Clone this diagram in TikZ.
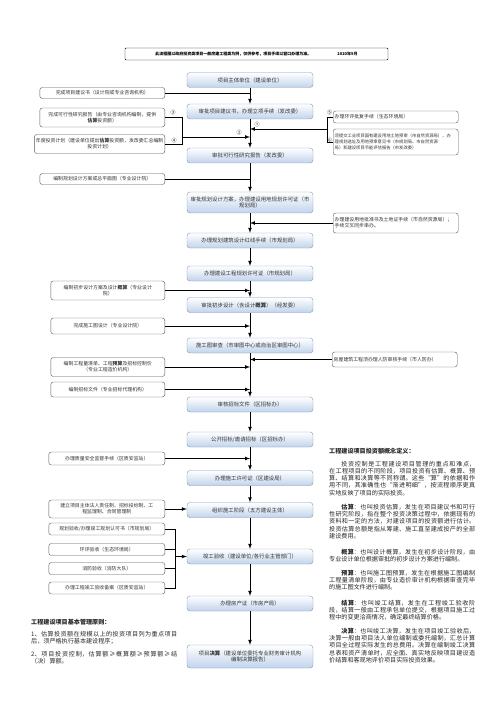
\documentclass[tikz,border=0pt]{standalone}
\usepackage{fontspec}
\setmainfont{Noto Sans CJK SC}
\XeTeXlinebreaklocale "zh"
\XeTeXlinebreakskip = 0pt
\usepackage{tikz}
\definecolor{stageblue}{RGB}{193,212,236}
\definecolor{stageline}{RGB}{128,150,184}
\newcommand{\stagefont}{\fontsize{5.4}{6.8}\selectfont}
\newcommand{\taskfont}{\fontsize{4.9}{6.2}\selectfont}
\newcommand{\smalltaskfont}{\fontsize{4.3}{5.8}\selectfont}
\newcommand{\notefont}{\fontsize{6.1}{7.2}\selectfont\XeTeXlinebreakskip=0pt plus 1pt}
\tikzstyle{stagebox}=[draw=stageline, rounded corners=3pt, top color=white, bottom color=stageblue,
                      minimum width=126pt, minimum height=15pt, align=center, inner sep=2pt,
                      font=\stagefont, text=black!80]
\tikzstyle{taskbox}=[draw=black!65, rounded corners=2.5pt, fill=white, minimum height=11pt,
                     inner sep=1.5pt, align=center, font=\taskfont, text=black!80]
\tikzstyle{notetext}=[anchor=north west, inner sep=0, align=justify, font=\notefont, text=black!85]
\tikzstyle{flow}=[-latex, line width=0.7pt]
\tikzstyle{link}=[line width=0.7pt]
\tikzstyle{numlabel}=[inner sep=0, font=\fontsize{5}{5}\selectfont]

\begin{document}
\begin{tikzpicture}[x=1pt, y=-1pt]
    \useasboundingbox (0,0) rectangle (503,711);
    \node[draw, rounded corners=1pt, minimum width=263pt, minimum height=12pt, inner sep=0,
          font=\fontsize{4}{4}\selectfont\bfseries] (title) at (256.5,54)
        {此流程图以政府投资类项目一般房建工程类为例，仅供参考，项目手续以窗口办理为准。\hspace{26pt}2020年9月};

    % main line
    \node[stagebox] (owner) at (250,80) {项目主体单位（建设单位）};
    \node[stagebox] (proposal) at (250,111.5) {审批项目建议书，办理立项手续（发改委）};
    \node[stagebox] (feasibility) at (250,155.5) {审批可行性研究报告（发改委）};
    \node[stagebox, minimum height=21pt] (scheme) at (250,202.5) {审批规划设计方案，办理建设用地规划许可证（市\\规划局）};
    \node[stagebox] (redline) at (250,240.5) {办理规划建筑设计红线手续（市规划局）};
    \node[stagebox] (planpermit) at (250,273.5) {办理建设工程规划许可证（市规划局）};
    \node[stagebox] (prelim) at (250,305) {审批初步设计（含设计\textbf{概算}）（经发委）};
    \node[stagebox] (review) at (250,345.5) {施工图审查（市审图中心或自治区审图中心）};
    \node[stagebox] (tenderdoc) at (250,404.5) {审核招标文件（区招标办）};
    \node[stagebox] (bidding) at (250,439.5) {公开招标/邀请招标（区招标办）};
    \node[stagebox] (buildpermit) at (250,478) {办理施工许可证（区建设局）};
    \node[stagebox] (construct) at (250,510) {组织施工阶段（五方建设主体）};
    \node[stagebox] (accept) at (250,556.5) {竣工验收（建设单位/各行业主管部门）};
    \node[stagebox] (deed) at (250,603.5) {办理房产证（市房产局）};
    \node[stagebox, minimum height=23pt] (account) at (250,656.5) {项目\textbf{决算}（建设单位委托专业财务审计机构\\编制决算报告）};

    \foreach \a/\b in {owner/proposal, proposal/feasibility, feasibility/scheme, scheme/redline,
                       redline/planpermit, planpermit/prelim, prelim/review, review/tenderdoc,
                       tenderdoc/bidding, bidding/buildpermit, buildpermit/construct,
                       construct/accept, accept/deed, deed/account}
        \draw[flow] (\a) -- (\b);

    % left side
    \node[taskbox, minimum width=125pt, anchor=east] (lproposal) at (165,93) {完成项目建议书（设计院或专业咨询机构）};
    \node[taskbox, minimum width=125pt, anchor=east, minimum height=19pt] (lfeas) at (165,117.5) {完成可行性研究报告（由专业咨询机构编制，提供\\\textbf{估算}投资额）};
    \node[taskbox, minimum width=125pt, anchor=east, minimum height=19pt] (lplan) at (165,144) {年度投资计划（建设单位提出\textbf{估算}投资额，发改委汇总编制\\投资计划）};
    \node[taskbox, minimum width=125pt, anchor=east] (lscheme) at (165,179) {编制规划设计方案或总平面图（专业设计院）};
    \node[taskbox, minimum width=114pt, anchor=east, minimum height=19pt] (lprelim) at (165,290.5) {编制初步设计方案及设计\textbf{概算}（专业设计\\院）};
    \node[taskbox, minimum width=114pt, anchor=east, minimum height=16pt] (ldrawing) at (165,326) {完成施工图设计（专业设计院）};
    \node[taskbox, minimum width=114pt, anchor=east, minimum height=19pt] (lquantity) at (165,367) {编制工程量清单、工程\textbf{预算}及招标控制价\\（专业工程造价机构）};
    \node[taskbox, minimum width=114pt, anchor=east, minimum height=15pt] (ltender) at (165,389.5) {编制招标文件（专业招标代理机构）};
    \node[taskbox, minimum width=116pt, anchor=east, minimum height=13pt] (lsafety) at (165,458.5) {办理质量安全监督手续（区质安监站）};
    \node[taskbox, minimum width=116pt, anchor=east, minimum height=18pt] (lsystem) at (165,509) {建立项目主体法人责任制、招标投标制、工\\程监理制、合同管理制};
    \node[taskbox, minimum width=116pt, anchor=east, minimum height=12pt] (lplancheck) at (165,529) {规划验收/办理竣工规划认可书（市规划局）};
    \node[taskbox, minimum width=116pt, anchor=east, minimum height=12pt] (lenvcheck) at (165,549.5) {环评验收（生态环境局）};
    \node[taskbox, minimum width=116pt, anchor=east, minimum height=12pt] (lfire) at (165,568.5) {消防验收（消防大队）};
    \node[taskbox, minimum width=116pt, anchor=east, minimum height=12pt] (lrecord) at (165,588) {办理工程竣工验收备案（区质安监站）};

    % right side
    \node[taskbox, text width=122pt, anchor=west, minimum height=12pt, align=left] (renv) at (333,117) {办理环评批复手续（生态环境局）};
    \node[taskbox, text width=122pt, anchor=west, minimum height=26pt, align=left, font=\smalltaskfont] (rland) at (333,142) {须提交工业项目国有建设用地土地预审（市自然资源局），办\\理规划选址及用地预审意见书（市规划局、市自然资源\\局）和建设项目节能评估报告（市发改委）};
    \node[taskbox, text width=122pt, anchor=west, minimum height=20pt, align=left] (rlandcert) at (333,223) {办理建设用地批准书及土地证手续（市自然资源局）；\\手续交叉同步串办。};
    \node[taskbox, text width=122pt, anchor=west, minimum height=15pt, align=left] (rdefense) at (332,359.5) {房屋建筑工程须办理人防审核手续（市人防办）};

    % side connectors
    \draw[link] (lproposal.east) -- (lproposal.east -| proposal.north);
    \coordinate (lmerge) at (182,137);
    \draw[link] (lfeas.east) -| (lmerge);
    \draw[link] (lplan.east) -| (lmerge);
    \draw[flow] (lmerge) -- (lmerge -| feasibility.north);
    \coordinate (rmerge) at (327,129);
    \draw[link] (renv.west) -| (rmerge);
    \draw[link] (rland.west) -| (rmerge);
    \draw[flow] (rmerge) -- (rmerge -| feasibility.north);
    \node[numlabel] (n1) at (257,125) {①};
    \node[numlabel] (n2) at (239,133) {②};
    \node[numlabel] (n3) at (173,113) {③};
    \node[numlabel] (n4) at (174,140.5) {④};
    \node[numlabel] (n5) at (329.5,113) {⑤};
    \node[numlabel] (n6) at (329.5,141) {⑥};
    \draw[link] (lscheme.east) -- (lscheme.east -| scheme.north);
    \draw[flow] (rlandcert.west) -- (rlandcert.west -| redline.north);
    \draw[flow] (lprelim.east) -- (lprelim.east -| prelim.north);
    \draw[flow] (ldrawing.east) -- (ldrawing.east -| review.north);
    \draw[flow] (rdefense.west) -- (rdefense.west -| tenderdoc.north);
    \draw[flow] (lquantity.east) -- (lquantity.east -| tenderdoc.north);
    \draw[flow] (ltender.east) -- (ltender.east -| tenderdoc.north);
    \draw[flow] (lsafety.east) -- (lsafety.east -| buildpermit.north);
    \draw[flow] (lsystem.east) -- (construct.west |- lsystem.east);
    \coordinate (acmerge) at (175,556.5);
    \draw[link] (lplancheck.east) -| (acmerge);
    \draw[link] (lrecord.east) -| (acmerge);
    \draw[link] (lenvcheck.east) -- (lenvcheck.east -| acmerge);
    \draw[link] (lfire.east) -- (lfire.east -| acmerge);
    \draw[flow] (acmerge) -- (accept.west);

    % principles
    \node[notetext, font=\notefont\bfseries, text width=150pt] (rules) at (31,619) {工程建设项目基本管理原则：};
    \node[notetext, text width=146pt] (rule1) at (31,631) {\hangindent=1.3em\hangafter=1 1、估算投资额在规模以上的投资项目列为重点项目后，须严格执行基本建设程序；};
    \node[notetext, text width=146pt] (rule2) at (31,651) {\hangindent=1.3em\hangafter=1 2、项目投资控制，估算额≥概算额≥预算额≥结（决）算额。};

    % definitions
    \node[notetext, font=\notefont\bfseries, text width=146pt] (defs) at (329,448) {工程建设项目投资额概念定义：};
    \node[notetext, text width=146pt] (def0) at (329,461) {\hspace*{2em}投资控制是工程建设项目管理的重点和难点，在工程项目的不同阶段，项目投资有估算、概算、预算、结算和决算等不同称谓。这些“算”的依据和作用不同，其准确性也“渐进明细”，按流程顺序更真实地反映了项目的实际投资。};
    \node[notetext, text width=146pt] (def1) at (329,504) {\hspace*{2em}\textbf{估算}：也叫投资估算，发生在项目建议书和可行性研究阶段，指在整个投资决策过程中，依据现有的资料和一定的方法，对建设项目的投资额进行估计。投资估算总额是指从筹建、施工直至建成投产的全部建设费用。};
    \node[notetext, text width=146pt] (def2) at (329,549) {\hspace*{2em}\textbf{概算}：也叫设计概算，发生在初步设计阶段，由专业设计单位根据审批的初步设计方案进行编制。};
    \node[notetext, text width=146pt] (def3) at (329,570) {\hspace*{2em}\textbf{预算}：也叫施工图预算，发生在根据施工图编制工程量清单阶段，由专业造价审计机构根据审查完毕的施工图文件进行编制。};
    \node[notetext, text width=146pt] (def4) at (329,600) {\hspace*{2em}\textbf{结算}：也叫竣工结算，发生在工程竣工验收阶段，结算一般由工程承包单位提交，根据项目施工过程中的变更洽商情况，确定最终结算价格。};
    \node[notetext, text width=146pt] (def5) at (329,628) {\hspace*{2em}\textbf{决算}：也叫竣工决算，发生在项目竣工验收后，决算一般由项目法人单位编制或委托编制，汇总计算项目全过程实际发生的总费用。决算在编制竣工决算总表和资产清单时，应全面、真实地反映项目建设造价结算和客观地评价项目实际投资效果。};
\end{tikzpicture}
\end{document}
